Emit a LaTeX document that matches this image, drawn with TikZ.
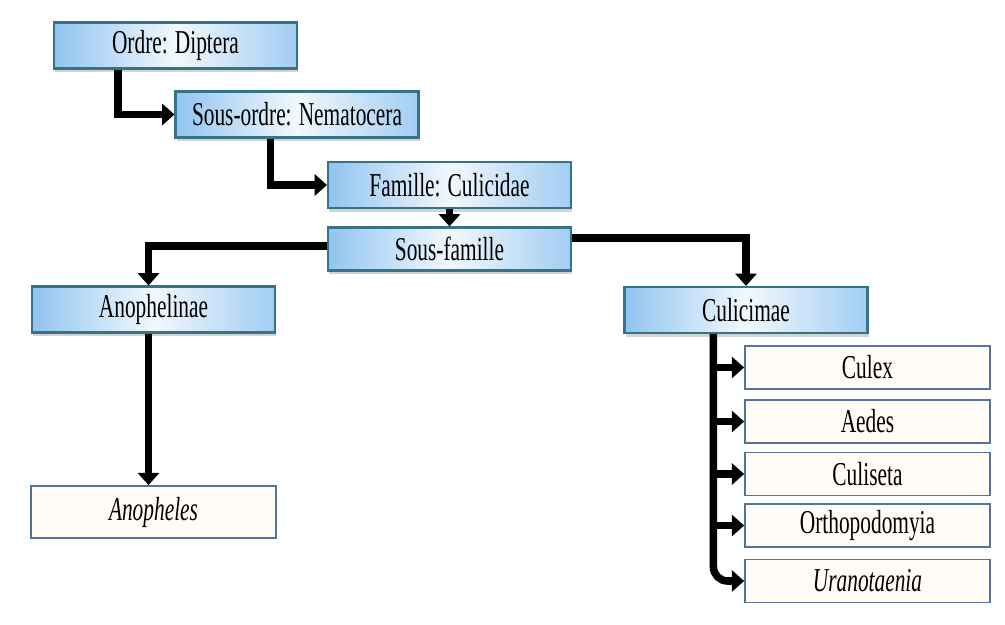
\documentclass[tikz,border=0pt]{standalone}
\usepackage{fontspec}
\setmainfont{Liberation Serif}
\newfontfamily\narrowfont[FakeStretch=0.64]{Liberation Serif}
\usepackage{tikz}
\usetikzlibrary{calc,arrows.meta,shadows}

\definecolor{boxblue}{RGB}{145,196,240}
\definecolor{boxline}{RGB}{55,115,135}
\definecolor{leafline}{RGB}{85,115,150}

\begin{document}
\begin{tikzpicture}[x=0.02cm, y=-0.02cm,
    rank/.style={draw=boxline, line width=1.2pt, minimum width=4.86cm,
      minimum height=0.92cm, inner sep=0pt,
      left color=boxblue, right color=boxblue!85, middle color=white!88!boxblue,
      drop shadow={opacity=0.35, shadow xshift=0.6pt, shadow yshift=-2.2pt},
      font=\narrowfont\fontsize{19}{20}\selectfont},
    genus/.style={draw=leafline, line width=1pt, fill=white!97!orange,
      minimum width=4.9cm, minimum height=0.86cm, inner sep=0pt,
      font=\narrowfont\fontsize{19}{20}\selectfont},
    link/.style={line width=4.3pt,
      -{Triangle[length=7pt, width=12pt]}}]
    \useasboundingbox (0,0) rectangle (1005,625);

    % Ranks
    \node[rank] (ordre) at (175.5,45.5) {Ordre: Diptera};
    \node[rank] (sousordre) at (297,114.5) {Sous-ordre: Nematocera};
    \node[rank] (famille) at (449.5,185) {Famille: Culicidae};
    \node[rank, minimum height=0.86cm] (sousfamille) at (449.5,249) {Sous-famille};
    \node[rank] (anoph) at (153.5,309.5) {Anophelinae};
    \node[rank] (culic) at (746,310) {Culicimae};

    % Genera
    \node[genus, minimum height=1.04cm] (anopheles) at (153.5,512) {\itshape Anopheles};
    \foreach \name/\y [count=\i] in {Culex/367.5, Aedes/421.5, Culiseta/474,
        Orthopodomyia/525.5, {\itshape Uranotaenia}/581}
      \node[genus] (g\i) at (867.5,\y) {\name};

    \draw[link] ([xshift=1.3cm]ordre.south west) |- (sousordre.west);
    \draw[link] ([xshift=1.92cm]sousordre.south west) |- (famille.west);
    \draw[link] (famille.south) -- (sousfamille.north);
    \draw[link] ([yshift=0.06cm]sousfamille.west) -| ([xshift=-0.1cm]anoph.north);
    \draw[link] ([yshift=0.22cm]sousfamille.east) -| (culic.north);
    \draw[link] ([xshift=-0.1cm]anoph.south) -- ([xshift=-0.1cm]anopheles.north);

    % Culicimae branches
    \coordinate (trunk) at ([xshift=1.8cm]culic.south west);
    \foreach \i in {1,2,3,4}
      \draw[link] (trunk |- g\i.west) -- (g\i.west);
    \draw[link, rounded corners=8pt] (trunk) |- (g5.west);
\end{tikzpicture}
\end{document}
